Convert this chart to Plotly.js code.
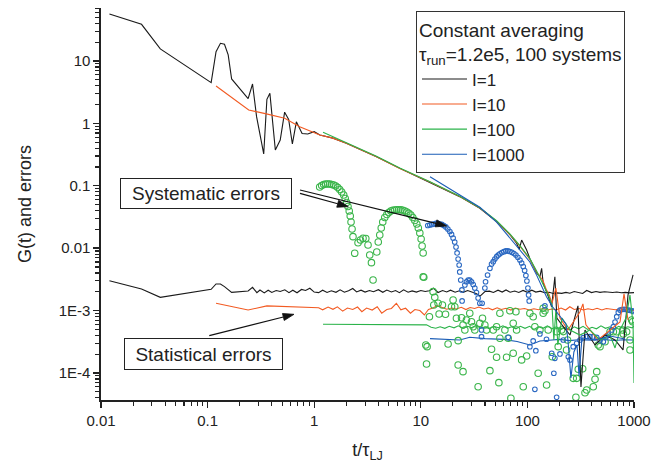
<!DOCTYPE html>
<html>
<head>
<meta charset="utf-8">
<script src="https://cdn.plot.ly/plotly-3.0.1.min.js"></script>
<style>html,body{margin:0;padding:0;background:#fff}#chart{width:654px;height:463px}</style>
</head>
<body>
<div id="chart"></div>
<script>
// ---------- G(t) curves ----------
const tG1 = [0.012,0.024,0.036,0.108,0.12,0.132,0.144,0.156,0.168,0.24,0.264,0.288,0.336,0.36,0.384,0.432,0.48,0.528,0.576,0.624,0.68,0.77,0.87,1.0,1.13,1.5,2.0,3.84,6.35,12.2,23.2,35.8,51.4,68.5,79.2,83.8,88.3,98.3,105.5,122,131,136,140.6,156.7,168.6,181,189,211,251,298,318,347,431,535,664,789,879,980];
const gG1 = [56.6,38.7,15.6,4.49,14.1,19.2,18.5,12.5,5.15,2.49,4.28,1.28,0.324,2.43,3.03,0.375,0.542,1.51,1.16,0.468,1.06,0.69,0.676,0.736,0.652,0.58,0.48,0.292,0.19,0.114,0.067,0.0436,0.0266,0.0165,0.012,0.0096,0.0135,0.00936,0.0068,0.0040,0.00349,0.00476,0.00274,0.0017,0.00115,0.00349,0.00076,0.00059,0.000406,0.00119,0.0000597,0.000489,0.000281,0.000406,0.000338,0.000234,0.00178,0.00373];

const tG10 = [0.12,0.243,0.356,0.529,0.731,1.13,1.5,2.0,3.84,6.35,12.2,23.2,35.8,51.4,68.5,85.1,105.5,122,140,150,160,170,185,202,240,279,311,332,354,459,595,739,806,879];
const gG10 = [3.97,1.64,1.42,1.21,0.886,0.652,0.58,0.48,0.293,0.19,0.115,0.0672,0.044,0.027,0.0166,0.0108,0.0066,0.0042,0.0030,0.0022,0.0018,0.0013,0.0023,0.00076,0.000489,0.000706,0.00095,0.00128,0.00059,0.000338,0.000489,0.000656,0.00185,0.000706];

const tG100 = [1.21,2.0,3.84,6.35,12.2,23.2,35.8,51.4,68.5,85.1,105.5,122,140.6,156.7,170,177,185,193,211,251,311,386,480,595,664,739,842,917,980,1000];
const gG100 = [0.72,0.49,0.296,0.192,0.116,0.068,0.0445,0.0275,0.017,0.011,0.0068,0.0043,0.0026,0.0018,0.00123,0.000338,0.00102,0.000281,0.00076,0.000489,0.000406,0.000489,0.000338,0.000406,0.000252,0.000489,0.00076,0.00178,0.00059,0.000069];

const tG1000 = [12.2,23.2,35.8,51.4,68.5,85.1,105.5,122,151,173,202,230,240,256,273,292,305,325,431,595,823];
const gG1000 = [0.14,0.071,0.0452,0.0262,0.01442,0.0095,0.00601,0.0037,0.00167,0.00114,0.00082,0.00061,0.000338,0.000083,0.000217,0.000281,0.0000895,0.000364,0.000338,0.000392,0.000351];

// ---------- statistical errors ----------
const tErr1 = [0.012,0.024,0.036,0.108,0.12,0.132,0.144,0.168,0.24,0.264,0.29,0.31,0.34,0.37,0.40,0.44,0.48,0.53,0.58,0.63,0.69,0.76,0.83,0.91,1.0,1.1,1.2,1.32,1.45,1.6,1.75,1.92,2.1,2.3,2.5,2.75,3.0,3.3,3.6,4.0,4.4,4.8,5.3,5.8,6.3,6.9,7.6,8.3,9.1,10,11,12,13.2,14.5,16,17.5,19,21,23,25,27.5,30,33,36,40,44,48,53,58,63,69,76,83,91,100,110,120,132,145,160,175,190,210,230,250,275,300,330,360,400,440,480,530,580,630,690,760,830,910,1000];
const gErr1 = [3.01e-3,2.22e-3,1.63e-3,2.19e-3,2.67e-3,2.67e-3,2.42e-3,1.96e-3,2.06e-3,2.36e-3,1.94e-3,2.14e-3,1.92e-3,2.12e-3,1.95e-3,2.10e-3,2.02e-3,2.15e-3,1.94e-3,2.12e-3,1.93e-3,2.18e-3,2.10e-3,2.28e-3,1.98e-3,1.94e-3,2.12e-3,1.95e-3,2.08e-3,1.96e-3,2.15e-3,1.97e-3,2.08e-3,2.26e-3,1.99e-3,2.12e-3,1.98e-3,2.10e-3,2.01e-3,2.16e-3,1.96e-3,2.13e-3,1.99e-3,2.09e-3,1.94e-3,2.15e-3,1.97e-3,2.07e-3,1.98e-3,2.10e-3,2.02e-3,2.08e-3,2.28e-3,1.95e-3,2.10e-3,1.99e-3,2.12e-3,1.97e-3,2.08e-3,1.96e-3,2.10e-3,1.98e-3,1.88e-3,1.71e-3,2.02e-3,2.05e-3,1.95e-3,2.12e-3,1.98e-3,2.14e-3,1.97e-3,2.06e-3,1.95e-3,2.10e-3,1.96e-3,2.12e-3,1.98e-3,2.05e-3,1.93e-3,1.97e-3,1.88e-3,1.92e-3,1.89e-3,1.96e-3,1.90e-3,2.02e-3,1.93e-3,1.88e-3,2.10e-3,1.94e-3,2.02e-3,1.96e-3,2.00e-3,1.97e-3,1.95e-3,1.98e-3,1.93e-3,1.96e-3,1.92e-3,1.94e-3];

const tErr10 = [0.12,0.24,0.36,1.1,1.2,1.35,1.5,1.65,1.85,2.05,2.3,2.55,2.8,3.1,3.5,3.9,4.3,4.8,5.3,5.9,6.5,7.2,8.0,8.8,9.8,10.8,11.8,13,14.3,15.8,17.5,19.5,21.5,24,26.5,29,32,35,39,43,47,52,57,63,70,77,85,94,104,115,127,140,155,170,188,207,228,250,275,305,335,370,410,450,500,550,610,670,740,820,900,1000];
const gErr10 = [1.31e-3,1.02e-3,1.19e-3,1.11e-3,1.03e-3,1.14e-3,1.05e-3,1.15e-3,9.8e-4,1.10e-3,1.04e-3,1.14e-3,9.6e-4,1.10e-3,1.02e-3,1.15e-3,9.1e-4,1.04e-3,1.08e-3,1.31e-3,1.03e-3,1.09e-3,9.1e-4,1.04e-3,1.00e-3,8.5e-4,1.04e-3,1.10e-3,1.20e-3,1.12e-3,1.05e-3,1.10e-3,1.06e-3,1.13e-3,1.04e-3,1.12e-3,1.08e-3,1.14e-3,1.06e-3,1.10e-3,1.03e-3,1.11e-3,1.04e-3,1.09e-3,1.02e-3,1.10e-3,1.05e-3,1.08e-3,1.02e-3,1.07e-3,1.03e-3,1.08e-3,1.02e-3,1.06e-3,1.03e-3,1.10e-3,1.02e-3,1.15e-3,1.04e-3,1.08e-3,1.02e-3,1.07e-3,1.03e-3,1.09e-3,1.02e-3,1.08e-3,1.05e-3,1.03e-3,1.07e-3,1.02e-3,1.05e-3,9.9e-4];

const tErr100 = [1.21,3.0,6.0,11.3,12.5,13.8,15.2,16.8,18.5,20.5,22.5,25,27.5,30,33,36.5,40,44,48.5,53.5,59,65,71,78,86,95,105,115,127,140,154,170,187,206,227,250,275,303,333,367,404,445,490,540,595,655,720,795,875,960,1000];
const gErr100 = [6.05e-4,6.0e-4,5.98e-4,5.9e-4,5.4e-4,5.2e-4,5.5e-4,5.2e-4,5.6e-4,5.3e-4,5.7e-4,5.2e-4,5.6e-4,5.3e-4,5.8e-4,5.2e-4,5.5e-4,5.1e-4,5.6e-4,5.3e-4,5.7e-4,5.2e-4,5.5e-4,5.1e-4,5.6e-4,5.2e-4,5.6e-4,5.0e-4,5.5e-4,5.2e-4,5.7e-4,5.1e-4,5.5e-4,5.0e-4,5.4e-4,4.9e-4,5.5e-4,5.1e-4,5.6e-4,5.0e-4,5.4e-4,5.1e-4,5.7e-4,5.2e-4,5.5e-4,5.1e-4,5.6e-4,5.2e-4,5.5e-4,5.3e-4,5.6e-4];

const tErr1000 = [12.2,18,23.2,28.8,40,60,80,105.5,120,131,160,200,250,300,400,500,650,800,1000];
const gErr1000 = [3.55e-4,3.50e-4,3.38e-4,3.73e-4,3.55e-4,3.45e-4,3.20e-4,2.81e-4,3.05e-4,3.26e-4,3.35e-4,3.45e-4,3.30e-4,3.40e-4,3.35e-4,3.45e-4,3.32e-4,3.40e-4,3.38e-4];

// ---------- systematic errors (open circles) ----------
const tSys100 = [1.126,1.176,1.228,1.282,1.339,1.398,1.46,1.524,1.592,1.663,1.735,1.811,1.892,1.954,2.018,2.075,2.131,2.178,2.216,2.265,2.312,2.399,
 2.578,2.716,2.871,3.048,3.199,3.319,3.444,3.565,
 3.864,3.99,4.121,4.256,4.396,4.59,4.8,5.01,5.23,5.46,5.7,5.95,6.21,6.49,6.78,7.08,7.39,7.71,8.06,8.41,8.79,9.17,9.48,9.79,10.07,10.29,10.52,10.52,
 10.67,11.14,11.46,11.32,12.05,13.04,13.52,13.24,14.52,15.96,14.85,17.06,18.03,19.41,20.09,20.84,21.6,22.4,22.4,24.1,24.9,24.9,25.9,26.8,28.8,29.9,31.0,32.1,34.5,35.8,37.9,39.9,41.4,44.5,46.1,47.8,51.4,51.4,54.0,55.2,55.2,61.5,63.8,66.1,68.5,70.0,73.6,73.6,78.0,79.2,88.3,91.4,98.4,105.5,113.3,117.5,126.2,131,140.6,140.6,146,151.4,156.7,171,188,194.5,209,217,233,238,269,285,290,300,330,347,360,415,431,447,462,480,535,596,640,689,783,794,853,917,917,951,972];
const gSys100 = [0.0957,0.101,0.105,0.107,0.107,0.107,0.105,0.103,0.0993,0.094,0.0873,0.0796,0.0713,0.0626,0.054,0.0466,0.0395,0.0328,0.0263,0.0203,0.0153,0.00828,
 0.01225,0.01353,0.01442,0.01429,0.01125,0.00778,0.00586,0.00309,
 0.00869,0.01257,0.0163,0.0211,0.0263,0.031,0.0347,0.0373,0.0395,0.0405,0.0409,0.0414,0.0414,0.0412,0.0405,0.0395,0.038,0.0362,0.034,0.031,0.0278,0.0244,0.0211,0.0175,0.014,0.01084,0.00838,0.00349,
 3.42e-3,2.81e-4,2.64e-4,1.39e-4,7.98e-4,2.01e-3,1.63e-3,1.23e-3,1.31e-3,1.23e-3,8.83e-4,8.73e-4,2.92e-4,1.15e-3,1.48e-3,1.15e-3,7.53e-4,1.34e-4,3.30e-4,7.69e-4,5.88e-4,1.05e-4,4.89e-4,7.07e-4,9.06e-4,6.64e-4,5.52e-4,4.89e-4,6.03e-5,6.25e-4,7.53e-4,5.88e-4,4.89e-4,1.09e-4,2.40e-4,4.89e-4,5.52e-4,1.79e-4,7.0e-5,9.06e-4,3.60e-4,4.89e-4,1.79e-4,3.60e-4,9.96e-4,3.94e-5,6.25e-4,2.07e-4,9.6e-4,4.89e-4,1.62e-4,6.03e-5,1.87e-4,9.06e-4,7.98e-4,5.52e-4,9.9e-5,4.89e-4,9.06e-4,1.09e-3,9.96e-4,6.43e-5,4.89e-4,1.82e-4,4.59e-4,2.64e-4,4.89e-4,4.6e-4,2.34e-4,3.38e-4,8.2e-5,4.08e-5,8.2e-5,1.15e-4,1.17e-4,4.83e-5,5.34e-5,6.03e-5,7.93e-5,1.05e-4,2.81e-4,2.64e-4,3.17e-4,4.59e-4,4.59e-4,4.59e-4,4.89e-4,4.22e-4,4.59e-4,2.34e-4,3.38e-4,7.07e-4,6.64e-4];

const tSys1000 = [11.63,12.16,12.69,13.24,13.83,14.45,15.08,15.74,16.44,17.17,17.93,18.72,19.42,20.1,20.8,21.4,21.9,22.4,22.9,23.2,23.7,24.3,24.4,
 25.9,26.8,27.8,28.8,29.9,31.0,32.1,33.3,34.5,35.8,37.6,
 39.9,40.5,42.3,44.5,46.1,47.8,49.5,51.4,53.2,55.2,57.6,60.2,62.8,65.6,68.5,71.5,74.7,78.0,81.4,85.1,88.3,91.4,94.2,96.8,98.9,101.1,102.6,104,
 37.1,37.1,66.1,
 105.5,113.3,120,117.5,131,146,151,169,181,177,188,202,217,242,251,269,290,311,334,360,386,415,447,480,515,546,574,618,640,664,689,713,739,772,806,842,879,917,957,989];
const gSys1000 = [0.0231,0.0235,0.024,0.0244,0.0249,0.0249,0.0244,0.024,0.0231,0.0219,0.0203,0.0185,0.0166,0.01456,0.01257,0.01045,0.00838,0.00671,0.00538,0.00416,0.00309,0.00214,0.00143,
 0.00257,0.0029,0.00309,0.00309,0.0029,0.00262,0.0023,0.00195,0.00159,0.00131,0.00131,
 0.0023,0.0029,0.00372,0.00476,0.00558,0.00608,0.00671,0.00731,0.00778,0.00813,0.00853,0.00879,0.00902,0.00902,0.00885,0.00859,0.00822,0.00778,0.00715,0.00647,0.00579,0.00509,0.00439,0.00365,0.00298,0.0023,0.00178,0.00143,
 4.89e-4,3.82e-4,3.73e-4,
 2.64e-4,3.26e-4,2.28e-4,5.48e-5,4.22e-4,1.19e-3,3.47e-4,2.07e-4,1.72e-4,9.9e-5,4.08e-5,2.02e-4,3.38e-4,1.82e-4,1.62e-4,2.64e-4,2.99e-4,3.38e-4,3.68e-4,3.82e-4,3.82e-4,3.82e-4,3.71e-4,3.38e-4,3.17e-4,3.78e-4,4.06e-4,4.89e-4,5.52e-4,6.56e-4,7.98e-4,9.33e-4,1.02e-3,1.04e-3,1.05e-3,1.04e-3,1.02e-3,1.01e-3,9.93e-4,9.68e-4];

// ---------- axes / labels ----------
const xTickVals = [0.01,0.1,1,10,100,1000];
const xTickText = ['0.01','0.1','1','10','100','1000'];
const yTickVals = [1e-4,1e-3,0.01,0.1,1,10];
const yTickText = ['1E-4','1E-3','0.01','0.1','1','10'];
const legendNames = ['I=1','I=10','I=100','I=1000'];

const C_BLACK = '#1a1a1a', C_ORANGE = '#f25a22', C_GREEN = '#2bb34a', C_BLUE = '#1a5cb6';

// plot-area geometry (pixels) used only to place the annotation arrows
const PL = 101, PW = 533, PT = 8, PH = 392;
const toPX = px => (px - PL) / PW;
const toPY = py => (PT + PH - py) / PH;

function minorTicks(lo, hi) {
  const out = [];
  for (let e = lo; e <= hi; e++) for (let m = 2; m <= 9; m++) out.push(m * Math.pow(10, e));
  return out;
}

// arrow as shapes: line + filled head (pixel endpoints -> paper coords)
function arrowShapes(x0, y0, x1, y1) {
  const dx = x1 - x0, dy = y1 - y0, L = Math.hypot(dx, dy);
  const ux = dx / L, uy = dy / L, hl = 11, hw = 3.6;
  const bx = x1 - ux * hl, by = y1 - uy * hl;
  const p1 = [bx - uy * hw, by + ux * hw], p2 = [bx + uy * hw, by - ux * hw];
  return [
    {type:'line', xref:'paper', yref:'paper', x0:toPX(x0), y0:toPY(y0), x1:toPX(bx), y1:toPY(by), line:{color:'#111', width:1.2}},
    {type:'path', xref:'paper', yref:'paper', fillcolor:'#111', line:{color:'#111', width:0.8},
     path:`M${toPX(x1)},${toPY(y1)} L${toPX(p1[0])},${toPY(p1[1])} L${toPX(p2[0])},${toPY(p2[1])} Z`}
  ];
}

const errLine = (x, y, c) => ({x, y, type:'scatter', mode:'lines', line:{color:c, width:1.1}, showlegend:false, hoverinfo:'skip'});
const gLine = (x, y, c, n) => ({x, y, type:'scatter', mode:'lines', line:{color:c, width:1.1}, name:n, showlegend:true});

const traces = [
  errLine(tErr1, gErr1, C_BLACK),
  errLine(tErr10, gErr10, C_ORANGE),
  errLine(tErr100, gErr100, C_GREEN),
  errLine(tErr1000, gErr1000, C_BLUE),
  {x:tSys100, y:gSys100, type:'scatter', mode:'markers', showlegend:false,
   marker:{symbol:'circle-open', size:6.5, color:'#3ab54a', line:{width:1.1, color:'#3ab54a'}}},
  {x:tSys1000, y:gSys1000, type:'scatter', mode:'markers', showlegend:false,
   marker:{symbol:'circle-open', size:4.6, color:'#2a68c2', line:{width:1.1, color:'#2a68c2'}}},
  gLine(tG1, gG1, C_BLACK, legendNames[0]),
  gLine(tG10, gG10, C_ORANGE, legendNames[1]),
  gLine(tG100, gG100, C_GREEN, legendNames[2]),
  gLine(tG1000, gG1000, C_BLUE, legendNames[3])
];

const axisBase = {
  type:'log', showline:true, linecolor:'#222', linewidth:1.6, mirror:false,
  ticks:'outside', ticklen:6, tickwidth:1.4, tickcolor:'#222',
  showgrid:false, zeroline:false, tickmode:'array',
  tickfont:{size:15, color:'#222'}
};

const layout = {
  width:654, height:463,
  margin:{l:PL, r:654 - PL - PW, t:PT, b:463 - PT - PH},
  paper_bgcolor:'#fff', plot_bgcolor:'#fff',
  font:{family:'"Liberation Sans", Arial, sans-serif', size:15, color:'#222'},
  xaxis: Object.assign({}, axisBase, {
    range:[-2,3], tickvals:xTickVals, ticktext:xTickText,
    minor:{ticks:'outside', ticklen:4, tickwidth:1.1, tickcolor:'#222', tickmode:'array', tickvals:minorTicks(-2,2), showgrid:false},
    title:{text:'t/τ<sub>LJ</sub>', font:{size:18, color:'#222'}, standoff:20}
  }),
  yaxis: Object.assign({}, axisBase, {
    range:[-4.433,1.849], tickvals:yTickVals, ticktext:yTickText,
    minor:{ticks:'outside', ticklen:4, tickwidth:1.1, tickcolor:'#222', tickmode:'array', tickvals:minorTicks(-5,1), showgrid:false},
    title:{text:'G(t) and errors', font:{size:18, color:'#222'}, standoff:22}
  }),
  showlegend:true,
  legend:{
    x:0.591, y:0.9923, xanchor:'left', yanchor:'top',
    bordercolor:'#333', borderwidth:1, bgcolor:'#fff',
    font:{size:17, color:'#222'}, itemwidth:45,
    title:{text:'Constant averaging<br>τ<sub>run</sub>=1.2e5, 100 systems', font:{size:19, color:'#222'}},
    tracegroupgap:0
  },
  annotations:[
    {xref:'paper', yref:'paper', x:toPX(205.5), y:toPY(193.3), xanchor:'center', yanchor:'middle',
     text:'Systematic errors', showarrow:false, font:{size:19, color:'#222'},
     bordercolor:'#222', borderwidth:1, borderpad:3, bgcolor:'#fff', width:164, height:23},
    {xref:'paper', yref:'paper', x:toPX(203.5), y:toPY(354), xanchor:'center', yanchor:'middle',
     text:'Statistical errors', showarrow:false, font:{size:19, color:'#222'},
     bordercolor:'#222', borderwidth:1, borderpad:3, bgcolor:'#fff', width:151, height:24}
  ],
  shapes: [].concat(
    arrowShapes(300, 193.3, 348.3, 206.7),
    arrowShapes(300, 190, 446.7, 226),
    arrowShapes(209.3, 335.7, 294, 314.3)
  )
};

Plotly.newPlot('chart', traces, layout, {staticPlot:true, displayModeBar:false});
</script>
</body>
</html>
